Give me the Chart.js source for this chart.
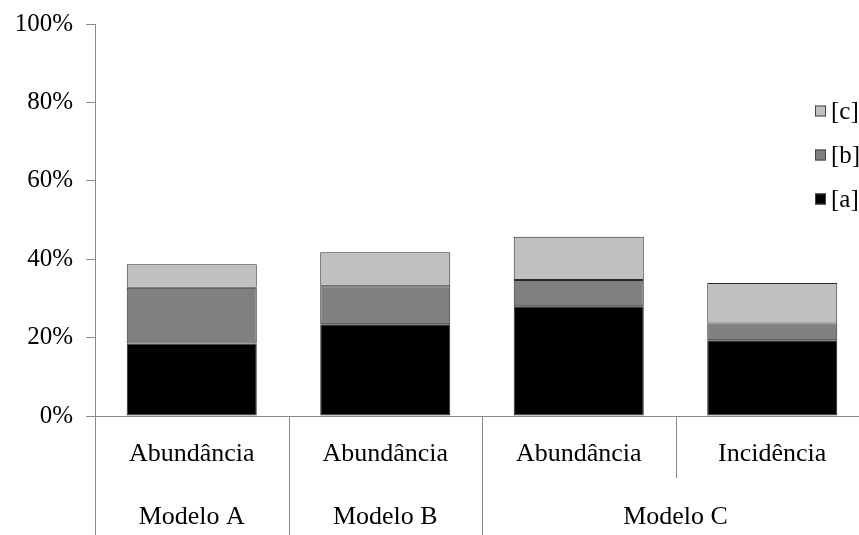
<!DOCTYPE html>
<html>
<head>
<meta charset="utf-8">
<script src="https://cdn.jsdelivr.net/npm/chart.js@4"></script>
<style>
  html, body { margin: 0; padding: 0; background: #fff; overflow: hidden; }
  #wrap { width: 880px; height: 535px; }
</style>
</head>
<body>
<div id="wrap"><canvas id="c" width="880" height="535"></canvas></div>
<script>
const categories = ['Abundância', 'Abundância', 'Abundância', 'Incidência'];
const groupLabels = ['Modelo A', 'Modelo B', 'Modelo C'];
const groupSpans = [1, 1, 2];
const seriesNames = ['[a]', '[b]', '[c]'];
const seriesA = [18.5, 23.4, 28.0, 19.3];
const seriesB = [14.2, 9.7, 6.7, 4.3];
const seriesC = [6.0, 8.7, 11.0, 10.3];
const yTicks = [0, 20, 40, 60, 80, 100];

const FONT = "'Liberation Serif', 'Times New Roman', serif";
const AXIS_COLOR = '#8a8a8a';

const groupAxisPlugin = {
  id: 'groupAxis',
  afterDraw(chart) {
    const ctx = chart.ctx;
    const x = chart.scales.x;
    const area = chart.chartArea;
    const half = (x.getPixelForValue(1) - x.getPixelForValue(0)) / 2;
    const bottom = chart.height;
    ctx.save();
    ctx.strokeStyle = AXIS_COLOR;
    ctx.lineWidth = 1;
    let idx = 0;
    const groupStarts = [];
    groupSpans.forEach(s => { groupStarts.push(idx); idx += s; });
    for (let i = 1; i < categories.length; i++) {
      const px = Math.round(x.getPixelForValue(i) - half) + 0.5;
      const isGroupEdge = groupStarts.includes(i);
      ctx.beginPath();
      ctx.moveTo(px, area.bottom);
      ctx.lineTo(px, isGroupEdge ? bottom : area.bottom + 62);
      ctx.stroke();
    }
    [x.getPixelForValue(0) - half, x.getPixelForValue(categories.length - 1) + half].forEach(p => {
      const px = Math.round(p) + 0.5;
      ctx.beginPath();
      ctx.moveTo(px, area.bottom);
      ctx.lineTo(px, bottom);
      ctx.stroke();
    });
    ctx.fillStyle = '#000';
    ctx.font = '26px ' + FONT;
    ctx.textAlign = 'center';
    ctx.textBaseline = 'middle';
    groupLabels.forEach((g, gi) => {
      const s = groupStarts[gi];
      const e = s + groupSpans[gi] - 1;
      const cx = (x.getPixelForValue(s) + x.getPixelForValue(e)) / 2;
      ctx.fillText(g, cx, 517);
    });
    const ds = chart.data.datasets.slice().reverse();
    ctx.textAlign = 'left';
    ctx.font = '25px ' + FONT;
    ds.forEach((d, i) => {
      const cy = 111 + i * 44;
      ctx.fillStyle = d.backgroundColor;
      ctx.fillRect(815, cy - 5.5, 11, 11);
      ctx.strokeStyle = '#444';
      ctx.strokeRect(815.5, cy - 5, 10, 10);
      ctx.fillStyle = '#000';
      ctx.fillText(d.label, 831, cy + 1);
    });
    ctx.restore();
  }
};

new Chart(document.getElementById('c'), {
  type: 'bar',
  data: {
    labels: categories,
    datasets: [
      { label: seriesNames[0], data: seriesA, backgroundColor: '#000000', borderColor: '#2a2a2a', borderWidth: 1, borderSkipped: false },
      { label: seriesNames[1], data: seriesB, backgroundColor: '#808080', borderColor: '#2a2a2a', borderWidth: 1, borderSkipped: false },
      { label: seriesNames[2], data: seriesC, backgroundColor: '#c0c0c0', borderColor: '#2a2a2a', borderWidth: 1, borderSkipped: false }
    ]
  },
  options: {
    responsive: false,
    animation: false,
    layout: { padding: { top: 24, right: 11, left: 0, bottom: 0 } },
    plugins: { legend: { display: false }, tooltip: { enabled: false } },
    datasets: { bar: { barPercentage: 0.672, categoryPercentage: 1.0 } },
    scales: {
      x: {
        stacked: true,
        grid: { display: true, drawOnChartArea: false, drawTicks: false, color: AXIS_COLOR },
        border: { display: true, color: AXIS_COLOR, width: 1 },
        ticks: { color: '#000', font: { family: FONT, size: 26 }, padding: 23, maxRotation: 0, autoSkip: false },
        afterFit(scale) { scale.height = 119; scale.paddingLeft = 0; scale.paddingRight = 0; }
      },
      y: {
        stacked: true,
        min: 0,
        max: 100,
        afterBuildTicks(scale) { scale.ticks = yTicks.map(v => ({ value: v })); },
        grid: { display: true, drawOnChartArea: false, drawTicks: true, tickLength: 9, color: AXIS_COLOR },
        border: { display: true, color: AXIS_COLOR, width: 1 },
        ticks: { color: '#000', font: { family: FONT, size: 25 }, padding: 13, callback: v => v + '%' },
        afterFit(scale) { scale.width = 95; scale.paddingTop = 0; scale.paddingBottom = 0; }
      }
    }
  },
  plugins: [groupAxisPlugin]
});
</script>
</body>
</html>
